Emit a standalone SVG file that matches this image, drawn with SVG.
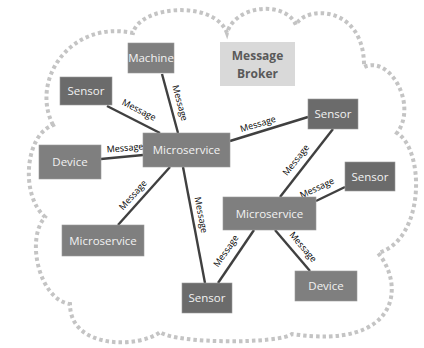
<svg xmlns="http://www.w3.org/2000/svg" width="424" height="348" viewBox="0 0 424 348">
<style>
.cloud{fill:none;stroke:#c4c4c4;stroke-width:4;stroke-dasharray:3.5 3}
.node{fill:#7f7f7f;stroke:#999;stroke-width:0.6}
.sensor{fill:#6b6b6b;stroke:#999;stroke-width:0.6}
.lbl{font-family:"Open Sans","Noto Sans",sans-serif;font-size:11.5px;fill:#f2f2f2;text-anchor:middle}
.conn line{stroke:#404040;stroke-width:2.4}
.msg{font-family:"Open Sans","Noto Sans",sans-serif;font-size:9px;fill:#000;text-anchor:middle}
.broker{fill:#d9d9d9}
.btxt{font-family:"Open Sans","Noto Sans",sans-serif;font-size:12px;font-weight:bold;fill:#595959;text-anchor:middle}
</style>
<rect width="424" height="348" fill="#fff"/>
<path class="cloud" d="M53,125 C30,80 70,20 133,33 C140,5 215,0 227,33 C235,5 285,0 296,25 C305,5 365,5 364,67 C390,55 418,105 397,133 C425,150 425,240 378,253 C405,285 400,350 292,334 C280,344 175,344 160,332 C140,348 70,350 70,304 C40,300 25,240 45,217 C20,195 25,135 53,125 Z"/>
<g class="conn" id="connectors">
<line x1="107" y1="106" x2="160" y2="133"/>
<line x1="162" y1="74" x2="178" y2="133"/>
<line x1="101" y1="159" x2="143" y2="155"/>
<line x1="230" y1="141" x2="308" y2="117"/>
<line x1="170" y1="167" x2="118" y2="225"/>
<line x1="183" y1="167" x2="205" y2="283"/>
<line x1="333" y1="129" x2="280" y2="197"/>
<line x1="345" y1="187" x2="316" y2="201"/>
<line x1="254" y1="230" x2="218" y2="283"/>
<line x1="275" y1="230" x2="310" y2="271"/>
<text class="msg" transform="translate(139,110) rotate(27)" dy="3">Message</text>
<text class="msg" transform="translate(180,103) rotate(75)" dy="3">Message</text>
<text class="msg" transform="translate(125,148) rotate(-5)" dy="3">Message</text>
<text class="msg" transform="translate(258,124) rotate(-17)" dy="3">Message</text>
<text class="msg" transform="translate(133,195) rotate(-48)" dy="3">Message</text>
<text class="msg" transform="translate(201,215) rotate(79)" dy="3">Message</text>
<text class="msg" transform="translate(296,160) rotate(-52)" dy="3">Message</text>
<text class="msg" transform="translate(317,188) rotate(-25)" dy="3">Message</text>
<text class="msg" transform="translate(226,251) rotate(-55)" dy="3">Message</text>
<text class="msg" transform="translate(303,247) rotate(50)" dy="3">Message</text>
</g>
<g id="broker"><rect class="broker" x="220" y="42" width="75" height="44"/><text class="btxt" x="257.5" y="60">Message</text><text class="btxt" x="257.5" y="78">Broker</text></g>
<g id="machine"><rect class="node" x="128" y="43" width="46" height="30"/><text class="lbl" x="151" y="62">Machine</text></g>
<g id="sensor1"><rect class="sensor" x="60" y="77" width="52" height="28"/><text class="lbl" x="86" y="95">Sensor</text></g>
<g id="device1"><rect class="node" x="39" y="145" width="62" height="34"/><text class="lbl" x="70" y="166">Device</text></g>
<g id="micro1"><rect class="node" x="143" y="133" width="87" height="34"/><text class="lbl" x="186.5" y="154">Microservice</text></g>
<g id="micro2"><rect class="node" x="62" y="225" width="82" height="31"/><text class="lbl" x="103" y="245">Microservice</text></g>
<g id="sensor2"><rect class="sensor" x="182" y="283" width="50" height="30"/><text class="lbl" x="207" y="302">Sensor</text></g>
<g id="device2"><rect class="node" x="295" y="271" width="62" height="30"/><text class="lbl" x="326" y="290">Device</text></g>
<g id="micro3"><rect class="node" x="223" y="197" width="93" height="33"/><text class="lbl" x="269.5" y="218">Microservice</text></g>
<g id="sensor3"><rect class="sensor" x="308" y="99" width="50" height="30"/><text class="lbl" x="333" y="118">Sensor</text></g>
<g id="sensor4"><rect class="sensor" x="345" y="162" width="50" height="29"/><text class="lbl" x="370" y="180.5">Sensor</text></g>
</svg>
